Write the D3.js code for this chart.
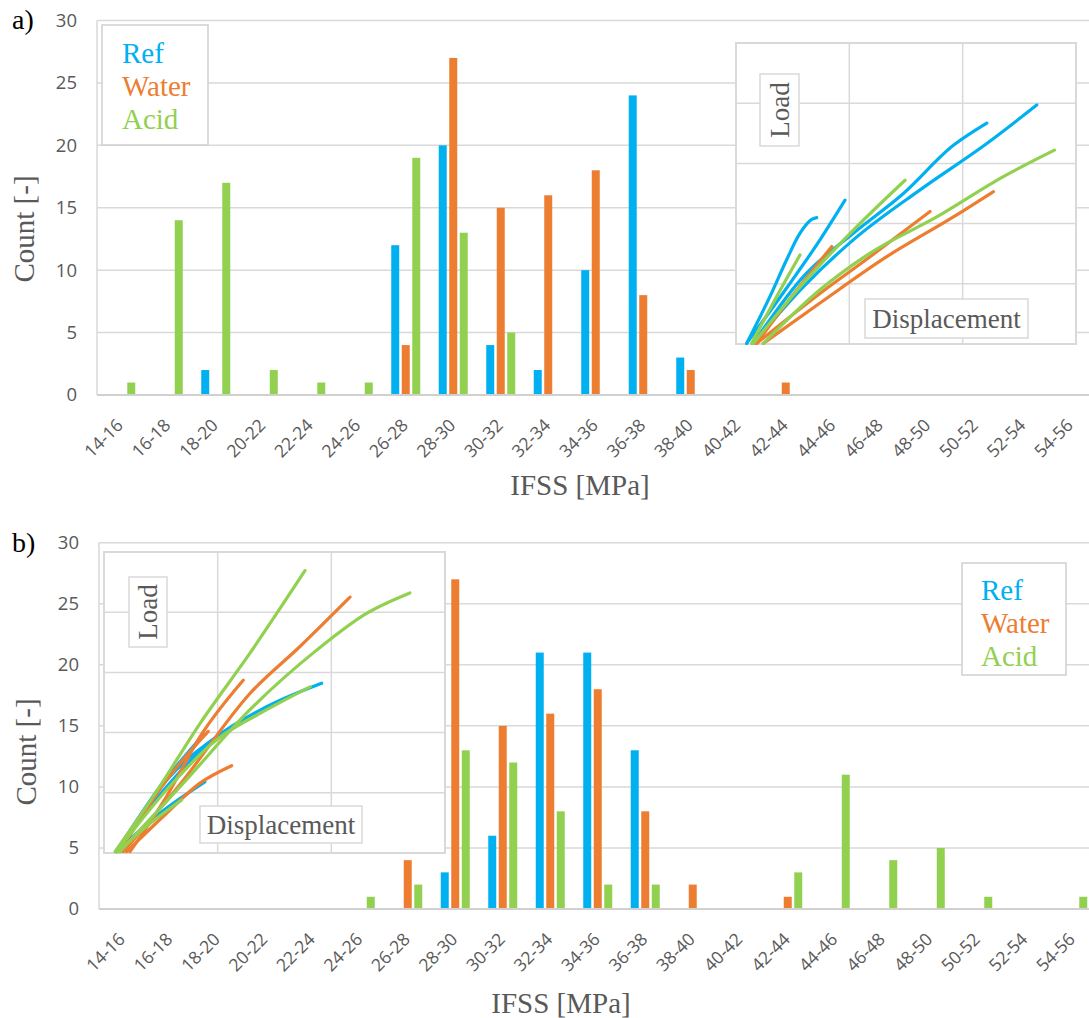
<!DOCTYPE html>
<html>
<head>
<meta charset="utf-8">
<script src="https://cdn.jsdelivr.net/npm/d3@7"></script>
<style>
body { margin: 0; background: #fff; }
svg { display: block; }
</style>
</head>
<body>
<svg></svg>
<script>
// histogram classes and counts
const categories = ["14-16", "16-18", "18-20", "20-22", "22-24", "24-26", "26-28", "28-30",
    "30-32", "32-34", "34-36", "36-38", "38-40", "40-42", "42-44", "44-46", "46-48",
    "48-50", "50-52", "52-54", "54-56"];
const seriesNames = ["Ref", "Water", "Acid"];
const seriesColors = ["#00B0F0", "#ED7D31", "#92D050"];
const yTicks = [0, 5, 10, 15, 20, 25, 30];

const refA   = [0, 0, 2, 0, 0, 0, 12, 20, 4, 2, 10, 24, 3, 0, 0, 0, 0, 0, 0, 0, 0];
const waterA = [0, 0, 0, 0, 0, 0, 4, 27, 15, 16, 18, 8, 2, 0, 1, 0, 0, 0, 0, 0, 0];
const acidA  = [1, 14, 17, 2, 1, 1, 19, 13, 5, 0, 0, 0, 0, 0, 0, 0, 0, 0, 0, 0, 0];

const refB   = [0, 0, 0, 0, 0, 0, 0, 3, 6, 21, 21, 13, 0, 0, 0, 0, 0, 0, 0, 0, 0];
const waterB = [0, 0, 0, 0, 0, 0, 4, 27, 15, 16, 18, 8, 2, 0, 1, 0, 0, 0, 0, 0, 0];
const acidB  = [0, 0, 0, 0, 0, 1, 2, 13, 12, 8, 2, 2, 0, 0, 3, 11, 4, 5, 1, 0, 1];

// inset load-displacement curves, [displacement, load] in inset units (0-3, 0-5)
const insetRefA = [
    [[0.094, 0.01], [0.30, 0.79], [0.447, 1.40], [0.565, 1.84], [0.668, 2.07], [0.712, 2.10]],
    [[0.094, 0.01], [0.447, 0.93], [0.741, 1.73], [0.962, 2.39]],
    [[0.153, 0.01], [0.594, 1.12], [1.035, 1.84], [1.477, 2.50], [1.918, 3.30], [2.213, 3.67]],
    [[0.153, 0.01], [0.594, 0.95], [1.035, 1.73], [1.624, 2.56], [2.213, 3.33], [2.654, 3.97]]
];
const insetWaterA = [
    [[0.182, 0.01], [0.447, 0.68], [0.653, 1.17], [0.845, 1.62]],
    [[0.182, 0.01], [0.741, 0.84], [1.183, 1.45], [1.712, 2.20]],
    [[0.241, 0.01], [0.741, 0.68], [1.330, 1.45], [1.918, 2.11], [2.271, 2.53]]
];
const insetAcidA = [
    [[0.138, 0.01], [0.359, 0.79], [0.565, 1.48]],
    [[0.153, 0.01], [0.594, 1.01], [1.035, 1.89], [1.492, 2.72]],
    [[0.241, 0.01], [0.741, 0.90], [1.183, 1.51], [1.771, 2.11], [2.359, 2.78], [2.81, 3.22]]
];

const insetRefB = [
    [[0.111, 0.022], [0.551, 1.10], [0.991, 1.93], [1.431, 2.43], [1.915, 2.82]],
    [[0.111, 0.022], [0.551, 1.21], [0.991, 1.93], [1.343, 2.29]],
    [[0.111, 0.022], [0.493, 1.10], [0.873, 1.96]],
    [[0.111, 0.022], [0.493, 0.66], [0.888, 1.18]]
];
const insetWaterB = [
    [[0.229, 0.022], [0.551, 0.94], [0.844, 1.93], [1.225, 2.87]],
    [[0.170, 0.022], [0.698, 1.21], [1.284, 2.65], [1.724, 3.43], [2.164, 4.25]],
    [[0.141, 0.022], [0.551, 1.21], [0.917, 2.02]],
    [[0.199, 0.022], [0.551, 0.66], [0.844, 1.16], [1.123, 1.45]]
];
const insetAcidB = [
    [[0.097, 0.022], [0.434, 0.94], [0.844, 2.15], [1.284, 3.32], [1.768, 4.69]],
    [[0.141, 0.022], [0.698, 1.16], [1.284, 2.38], [1.871, 3.37], [2.310, 3.98], [2.691, 4.32]],
    [[0.111, 0.022], [0.551, 1.05], [0.991, 1.88], [1.431, 2.38], [1.812, 2.76]],
    [[0.126, 0.022], [0.405, 0.49], [0.683, 0.88]]
];

const grid = "#d9d9d9";
const textGrey = "#595959";
const serif = '"Liberation Serif", "Times New Roman", serif';
const sans = '"Open Sans", "Liberation Sans", sans-serif';

const svg = d3.select("svg")
    .attr("width", 1089)
    .attr("height", 1018);

function drawPanel(p) {
    const g = svg.append("g");

    const x = d3.scaleBand()
        .domain(categories)
        .range([p.left, p.left + 47.5 * categories.length]);
    const xSub = d3.scaleBand()
        .domain(seriesNames)
        .range([9.25, 38.25])
        .paddingInner(0.24);
    const y = d3.scaleLinear()
        .domain([0, 30])
        .range([p.bottom, p.top]);

    // gridlines
    g.append("g").selectAll("line")
        .data(yTicks.filter(d => d > 0))
        .join("line")
        .attr("x1", p.left).attr("x2", 1089)
        .attr("y1", d => y(d)).attr("y2", d => y(d))
        .attr("stroke", grid).attr("stroke-width", 1.5);
    g.append("line")
        .attr("x1", p.left).attr("x2", p.left)
        .attr("y1", y(30)).attr("y2", y(0))
        .attr("stroke", grid).attr("stroke-width", 1.5);

    // bars
    const rows = [];
    p.series.forEach(function(vals, si) {
        vals.forEach(function(v, ci) {
            if (v > 0) rows.push({ cat: categories[ci], name: seriesNames[si], value: v, color: seriesColors[si] });
        });
    });
    g.append("g").selectAll("rect")
        .data(rows)
        .join("rect")
        .attr("x", d => x(d.cat) + xSub(d.name))
        .attr("width", xSub.bandwidth())
        .attr("y", d => y(d.value))
        .attr("height", d => y(0) - y(d.value))
        .attr("fill", d => d.color);

    // bottom axis line
    g.append("line")
        .attr("x1", p.left).attr("x2", 1089)
        .attr("y1", y(0)).attr("y2", y(0))
        .attr("stroke", "#d0d0d0").attr("stroke-width", 2);

    // y axis labels
    const yAxis = g.append("g")
        .attr("transform", "translate(" + (p.left - 20) + ",0)")
        .call(d3.axisLeft(y).tickValues(yTicks).tickSize(0).tickPadding(0));
    yAxis.select(".domain").remove();
    yAxis.selectAll("text")
        .style("font-family", sans).style("font-size", "18.5px").attr("fill", textGrey);

    // x axis labels
    const xAxis = g.append("g")
        .attr("transform", "translate(0," + y(0) + ")")
        .call(d3.axisBottom(x).tickSize(0));
    xAxis.select(".domain").remove();
    xAxis.selectAll("text")
        .style("font-family", sans).style("font-size", "17.5px").attr("fill", textGrey)
        .attr("text-anchor", "end")
        .attr("y", 0).attr("dy", "0.35em")
        .attr("transform", "translate(-1,27) rotate(-45)");

    // axis titles
    g.append("text")
        .attr("transform", "translate(" + p.yTitle[0] + "," + p.yTitle[1] + ") rotate(-90)")
        .attr("text-anchor", "middle")
        .style("font-family", serif).style("font-size", "29px").attr("fill", textGrey)
        .text("Count [-]");
    g.append("text")
        .attr("x", p.xTitle[0]).attr("y", p.xTitle[1])
        .attr("text-anchor", "middle")
        .style("font-family", serif).style("font-size", "29px").attr("fill", textGrey)
        .text("IFSS [MPa]");
    g.append("text")
        .attr("x", 12).attr("y", p.tag[1])
        .style("font-family", serif).style("font-size", "28px").attr("fill", "#000")
        .text(p.tag[0]);

    // legend
    const lg = p.legend;
    g.append("rect")
        .attr("x", lg.x).attr("y", lg.y).attr("width", lg.w).attr("height", lg.h)
        .attr("fill", "#fff").attr("stroke", "#cfcfcf").attr("stroke-width", 1.5);
    g.append("g").selectAll("text")
        .data(seriesNames)
        .join("text")
        .attr("x", lg.tx)
        .attr("y", (d, i) => lg.ty + i * 33)
        .style("font-family", serif).style("font-size", "29px")
        .attr("fill", (d, i) => seriesColors[i])
        .text(d => d);

    // inset
    const ins = p.inset;
    const ix = d3.scaleLinear().domain([0, 3]).range([ins.x0, ins.x1]);
    const iy = d3.scaleLinear().domain([0, 5]).range([ins.y1, ins.y0]);
    const ig = g.append("g");
    ig.append("rect")
        .attr("x", ins.x0).attr("y", ins.y0)
        .attr("width", ins.x1 - ins.x0).attr("height", ins.y1 - ins.y0)
        .attr("fill", "#fff").attr("stroke", grid).attr("stroke-width", 2);
    ig.selectAll(".vg")
        .data([1, 2])
        .join("line")
        .attr("x1", d => ix(d)).attr("x2", d => ix(d))
        .attr("y1", ins.y0).attr("y2", ins.y1)
        .attr("stroke", grid).attr("stroke-width", 1.5);
    ig.selectAll(".hg")
        .data([1, 2, 3, 4])
        .join("line")
        .attr("x1", ins.x0).attr("x2", ins.x1)
        .attr("y1", d => iy(d)).attr("y2", d => iy(d))
        .attr("stroke", grid).attr("stroke-width", 1.5);

    // label boxes
    const lb = ins.loadBox;
    ig.append("rect")
        .attr("x", lb[0]).attr("y", lb[1]).attr("width", lb[2]).attr("height", lb[3])
        .attr("fill", "#fff").attr("stroke", grid).attr("stroke-width", 1.5);
    ig.append("text")
        .attr("transform", "translate(" + (lb[0] + lb[2] / 2 + 9) + "," + (lb[1] + lb[3] / 2) + ") rotate(-90)")
        .attr("text-anchor", "middle")
        .style("font-family", serif).style("font-size", "27px").attr("fill", textGrey)
        .text("Load");
    const db = ins.dispBox;
    ig.append("rect")
        .attr("x", db[0]).attr("y", db[1]).attr("width", db[2]).attr("height", db[3])
        .attr("fill", "#fff").attr("stroke", grid).attr("stroke-width", 1.5);
    ig.append("text")
        .attr("x", db[0] + db[2] / 2).attr("y", db[1] + db[3] / 2 + 9)
        .attr("text-anchor", "middle")
        .style("font-family", serif).style("font-size", "27px").attr("fill", textGrey)
        .text("Displacement");

    const line = d3.line()
        .x(d => ix(d[0]))
        .y(d => iy(d[1]))
        .curve(d3.curveMonotoneX);
    ins.curves.forEach(function(set, si) {
        ig.append("g").selectAll("path")
            .data(set)
            .join("path")
            .attr("d", line)
            .attr("fill", "none")
            .attr("stroke", seriesColors[si])
            .attr("stroke-width", 3.2)
            .attr("stroke-linecap", "round");
    });
}

drawPanel({
    left: 97, top: 20.5, bottom: 395,
    series: [refA, waterA, acidA],
    yTitle: [34, 229], xTitle: [580, 495], tag: ["a)", 29],
    legend: { x: 102, y: 25, w: 106, h: 120, tx: 122, ty: 63 },
    inset: {
        x0: 736, x1: 1076, y0: 43, y1: 344,
        loadBox: [760, 74, 39, 72], dispBox: [865, 299, 163, 39],
        curves: [insetRefA, insetWaterA, insetAcidA]
    }
});

drawPanel({
    left: 99, top: 542.7, bottom: 909,
    series: [refB, waterB, acidB],
    yTitle: [36, 752], xTitle: [561, 1013], tag: ["b)", 552],
    legend: { x: 962, y: 563, w: 104, h: 112, tx: 981, ty: 600 },
    inset: {
        x0: 104, x1: 445, y0: 552, y1: 853,
        loadBox: [129, 577, 38, 70], dispBox: [200, 806, 162, 37],
        curves: [insetRefB, insetWaterB, insetAcidB]
    }
});
</script>
</body>
</html>
